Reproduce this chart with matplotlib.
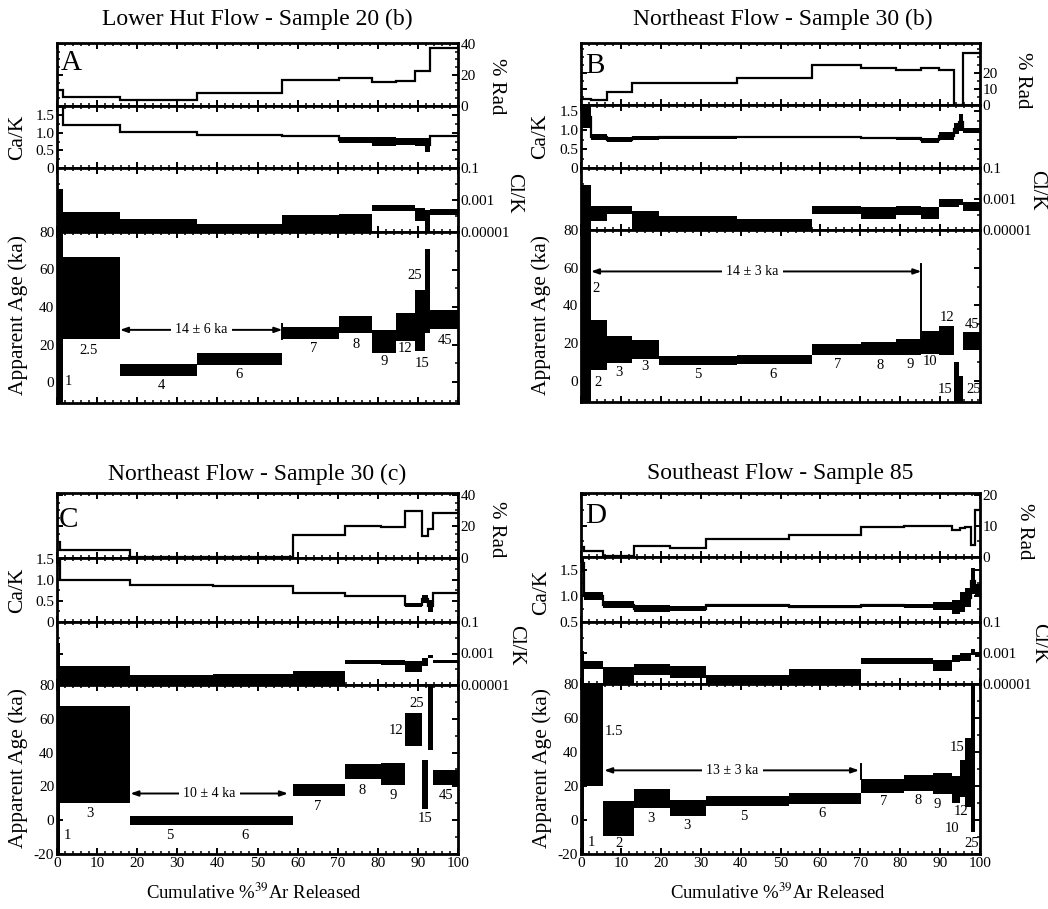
import numpy as np
import matplotlib
matplotlib.use('Agg')
import matplotlib.pyplot as plt
from matplotlib.ticker import MultipleLocator, FixedLocator, NullFormatter

plt.rcParams['font.family'] = ['Liberation Serif', 'DejaVu Serif']
plt.rcParams['mathtext.fontset'] = 'stix'
plt.rcParams['axes.unicode_minus'] = False

nan = np.nan

# ---------------- Panel A : Lower Hut Flow - Sample 20 (b) ----------------
A_edges = [0, 1.5, 15.7, 35.0, 56.2, 70.3, 78.6, 84.5, 89.2, 91.7, 92.9, 100]
A_steps = ["1", "2.5", "4", "6", "7", "8", "9", "12", "15", "25", "45"]
A_rad = [10.0, 6.0, 3.8, 8.1, 16.6, 18.3, 15.5, 16.2, 22.6, 22.6, 37.4]
A_cak_lo = [1.70, 1.20, 0.99, 0.93, 0.88, 0.72, 0.62, 0.64, 0.62, 0.45, 0.87]
A_cak_hi = [2.00, 1.26, 1.04, 0.97, 0.92, 0.87, 0.87, 0.86, 0.86, 0.86, 0.92]
A_clk_lo = [-6, -6, -6, -6, -6, -6, -3.69, -3.69, -4.30, -6, -3.96]
A_clk_hi = [-2.29, -3.75, -4.20, -4.52, -3.96, -3.85, -3.33, -3.33, -3.48, -3.60, -3.54]
A_age_lo = [-30, 22.8, 3.0, 9.2, 22.8, 26.0, 15.4, 22.0, 16.3, 26.0, 28.1]
A_age_hi = [90, 66.7, 9.7, 15.4, 29.2, 35.2, 27.8, 37.0, 49.0, 71.0, 38.4]
A_lab_x = [2.8, 7.8, 26.0, 45.4, 63.9, 74.5, 81.7, 86.7, 91.1, 89.2, 96.7]
A_lab_y = [0.4, 17.0, -2.0, 4.0, 18.0, 20.0, 11.0, 18.0, 9.7, 57.0, 22.0]
A_plateau = [15.7, 56.2, 27.8, 36.0]
A_plateau_text = "14 ± 6 ka"
A_plateau_tick = [56.2, 22.8, 31.0]

# ---------------- Panel B : Northeast Flow - Sample 30 (b) ----------------
B_edges = [0, 2.5, 6.5, 12.7, 19.6, 39.2, 58.0, 70.3, 78.9, 85.3, 89.7, 93.5, 94.7, 95.8, 100]
B_steps = ["2", "2", "3", "3", "5", "6", "7", "8", "9", "10", "12", "15", "25", "45"]
B_rad = [4.0, 3.0, 7.9, 13.6, 13.6, 16.8, 24.7, 23.2, 21.5, 23.2, 21.5, 0.0, 0.0, 32.0]
B_cak_lo = [1.07, 0.75, 0.68, 0.75, 0.77, 0.81, 0.79, 0.77, 0.75, 0.66, 0.75, 0.89, 0.98, 0.94]
B_cak_hi = [1.66, 0.89, 0.83, 0.85, 0.85, 0.86, 0.85, 0.83, 0.83, 0.80, 0.95, 1.20, 1.44, 1.07]
B_clk_lo = [-6, -4.39, -3.96, -6, -6, -6, -3.96, -4.29, -4.03, -4.29, -3.53, -3.53, -3.38, -3.75]
B_clk_hi = [-2.10, -3.46, -3.46, -3.75, -4.11, -4.29, -3.42, -3.53, -3.42, -3.53, -3.03, -3.03, -2.99, -3.20]
B_age_lo = [-30, 5.6, 9.5, 11.3, 8.3, 8.8, 13.6, 13.5, 13.5, 14.0, 13.5, -30, -30, 16.2]
B_age_hi = [90, 32.4, 23.6, 21.8, 13.0, 13.6, 19.7, 20.6, 21.9, 26.6, 28.9, 10.0, 2.5, 25.9]
B_lab_x = [3.8, 4.3, 9.4, 16.1, 29.2, 48.2, 64.3, 75.0, 82.4, 87.6, 91.8, 91.2, 98.3, 98.1]
B_lab_y = [48.8, -0.9, 4.2, 7.4, 3.5, 3.5, 8.8, 8.3, 8.8, 10.0, 33.5, -4.9, -4.9, 30.0]
B_plateau = [2.5, 85.3, 58.0, 43.0]
B_plateau_text = "14 ± 3 ka"
B_plateau_tick = [85.3, 21.9, 62.0]

# ---------------- Panel C : Northeast Flow - Sample 30 (c) ----------------
C_edges = [0, 0.8, 18.3, 39.0, 58.8, 71.8, 80.7, 86.7, 91.1, 92.5, 93.8, 100]
C_steps = ["1", "3", "5", "6", "7", "8", "9", "12", "15", "25", "45"]
C_rad = [10.0, 5.0, 0.8, 0.8, 14.4, 20.1, 19.7, 29.7, 13.8, 18.0, 28.2]
C_cak_lo = [1.30, 0.98, 0.85, 0.83, 0.68, 0.60, 0.60, 0.36, 0.45, 0.24, 0.67]
C_cak_hi = [1.80, 1.03, 0.89, 0.87, 0.72, 0.64, 0.64, 0.46, 0.65, 0.53, 0.71]
C_clk_lo = [-6, -6, -6, -6, -6, -3.65, -3.70, -4.20, -3.82, -3.29, -3.60]
C_clk_hi = [-2.32, -3.78, -4.35, -4.29, -4.14, -3.39, -3.39, -3.45, -3.29, -3.08, -3.39]
C_age_lo = [-30, 9.9, -3.0, -3.0, 14.2, 24.1, 20.8, 43.9, 6.9, 41.5, 20.8]
C_age_hi = [90, 67.6, 2.4, 2.4, 21.7, 33.2, 33.6, 63.2, 35.6, 90, 29.6]
C_lab_x = [2.5, 8.1, 28.0, 46.9, 64.9, 76.2, 83.8, 84.5, 91.7, 89.6, 97.1]
C_lab_y = [-9.0, 4.0, -9.0, -9.0, 8.3, 17.8, 14.8, 52.8, 1.0, 69.0, 14.8]
C_plateau = [18.3, 57.6, 15.8, 38.0]
C_plateau_text = "10 ± 4 ka"
C_plateau_tick = None

# ---------------- Panel D : Southeast Flow - Sample 85 ----------------
D_edges = [0, 0.8, 5.4, 13.4, 22.3, 31.3, 52.2, 70.1, 81.0, 88.1, 92.9, 95.0, 96.2, 97.7, 98.7, 100]
D_steps = ["1", "1.5", "2", "3", "3", "5", "6", "7", "8", "9", "10", "12", "15", "25", ""]
D_rad = [3.2, 1.8, 0.2, 3.6, 2.9, 5.8, 7.0, 9.6, 9.9, 10.0, 8.8, 9.2, 9.5, 4.0, 14.9]
D_cak_lo = [1.47, 0.93, 0.76, 0.69, 0.71, 0.79, 0.76, 0.79, 0.76, 0.73, 0.66, 0.69, 0.79, 1.03, 1.00]
D_cak_hi = [1.80, 1.08, 0.90, 0.82, 0.80, 0.85, 0.82, 0.85, 0.84, 0.89, 0.92, 1.08, 1.15, 1.53, 1.24]
D_clk_lo = [-6, -4.03, -6, -4.42, -4.63, -6, -6, -3.70, -3.70, -4.14, -3.59, -3.49, -3.49, -3.16, -3.27]
D_clk_hi = [-2.90, -3.49, -3.92, -3.70, -3.81, -4.42, -4.03, -3.34, -3.34, -3.44, -3.16, -3.00, -3.00, -2.73, -3.00]
D_age_lo = [-30, 19.8, -9.3, 6.9, 2.4, 8.3, 9.5, 15.8, 16.8, 15.4, 9.9, 13.8, 7.9, -6.9, nan]
D_age_hi = [90, 90, 10.9, 18.2, 11.9, 14.2, 15.8, 24.1, 26.7, 27.7, 26.1, 35.2, 48.4, 90, nan]
D_lab_x = [2.5, 8.3, 9.4, 17.5, 26.5, 40.9, 60.5, 75.8, 84.5, 89.3, 93.1, 95.2, 94.3, 98.0, nan]
D_lab_y = [-13.0, 52.0, -13.8, 1.0, -3.0, 2.0, 4.0, 10.9, 11.5, 8.9, -4.9, 4.9, 42.5, -13.8, nan]
D_plateau = [5.8, 69.7, 29.2, 38.0]
D_plateau_text = "13 ± 3 ka"
D_plateau_tick = [70.1, 24.0, 33.2]

titles = ["Lower Hut Flow - Sample 20 (b)", "Northeast Flow - Sample 30 (b)",
          "Northeast Flow - Sample 30 (c)", "Southeast Flow - Sample 85"]
letters = ["A", "B", "C", "D"]

rad_ticks = [[0, 20, 40], [0, 10, 20], [0, 20, 40], [0, 10, 20]]
cak_ticks = [[0, 0.5, 1.0, 1.5], [0, 0.5, 1.0, 1.5], [0, 0.5, 1.0, 1.5], [0.5, 1.0, 1.5]]
cak_ticklabels = [["0", "0.5", "1.0", "1.5"], ["0", "0.5", "1.0", "1.5"],
                  ["0", "0.5", "1.0", "1.5"], ["0.5", "1.0", "1.5"]]
clk_ticks = [1e-1, 1e-3, 1e-5]
clk_ticklabels = ["0.1", "0.001", "0.00001"]
age_ticks = [[0, 20, 40, 60, 80], [0, 20, 40, 60, 80],
             [-20, 0, 20, 40, 60, 80], [-20, 0, 20, 40, 60, 80]]

# ---------------- layout (pixels) ----------------
W, H = 1048, 909
panel_x = [(57, 458), (581, 980), (57, 458), (581, 980)]
panel_y = [[43, 106, 168, 232, 403], [43, 105, 168, 230, 402],
           [493, 558, 622, 685, 854], [493, 557, 622, 684, 854]]
rad_lim = [(0, 40.5), (0, 38.5), (0, 41), (0, 20.5)]
cak_lim = [(0, 1.76), (0, 1.67), (0, 1.52), (0.5, 1.75)]
age_lim = [(-11.2, 80), (-11.3, 80), (-20, 80), (-20, 80)]
title_pos = [(257, 19), (783, 19), (257, 474), (780, 474)]
letter_pos = [(61, 63), (585, 66), (59, 520), (585, 516)]
rad_label_pos = [(497, 86), (1022, 80), (497, 529), (1024, 531)]
clk_label_pos = [(514, 193), (1037, 190), (516, 645), (1039, 643)]
cak_label_pos = [(18, 137), (541, 136), (18, 590), (542, 592)]
age_label_pos = [(18, 315), (541, 315), (18, 768), (542, 768)]
xlabel_pos = [(254, 893), (778, 893)]

fig = plt.figure(figsize=(W / 100, H / 100), dpi=100)


def rect(x0, x1, y0, y1):
    return [x0 / W, 1 - y1 / H, (x1 - x0) / W, (y1 - y0) / H]


def style(ax, xlabels=False):
    ax.set_xlim(0, 100)
    ax.xaxis.set_major_locator(MultipleLocator(10))
    ax.xaxis.set_minor_locator(MultipleLocator(2))
    ax.tick_params(which='both', direction='in', top=True, bottom=True, left=True, right=True,
                   labelbottom=xlabels, labelleft=False, labelright=False, labelsize=11, pad=2)
    ax.tick_params(which='major', length=4.5, width=1.4)
    ax.tick_params(which='minor', length=2.5, width=1.1)
    for s in ax.spines.values():
        s.set_linewidth(2.0)


def fpx(x, y):
    return x / W, 1 - y / H


panels = [
    (A_edges, A_steps, A_rad, A_cak_lo, A_cak_hi, A_clk_lo, A_clk_hi, A_age_lo, A_age_hi,
     A_lab_x, A_lab_y, A_plateau, A_plateau_text, A_plateau_tick),
    (B_edges, B_steps, B_rad, B_cak_lo, B_cak_hi, B_clk_lo, B_clk_hi, B_age_lo, B_age_hi,
     B_lab_x, B_lab_y, B_plateau, B_plateau_text, B_plateau_tick),
    (C_edges, C_steps, C_rad, C_cak_lo, C_cak_hi, C_clk_lo, C_clk_hi, C_age_lo, C_age_hi,
     C_lab_x, C_lab_y, C_plateau, C_plateau_text, C_plateau_tick),
    (D_edges, D_steps, D_rad, D_cak_lo, D_cak_hi, D_clk_lo, D_clk_hi, D_age_lo, D_age_hi,
     D_lab_x, D_lab_y, D_plateau, D_plateau_text, D_plateau_tick),
]

for i, p in enumerate(panels):
    (edges, steps, rad, cak_lo, cak_hi, clk_lo, clk_hi, age_lo, age_hi,
     lab_x, lab_y, plateau, ptext, ptick) = p
    edges = np.array(edges, float)
    widths = np.diff(edges)
    left = edges[:-1]
    x0, x1 = panel_x[i]
    ys = panel_y[i]

    ax_r = fig.add_axes(rect(x0, x1, ys[0], ys[1]))
    ax_c = fig.add_axes(rect(x0, x1, ys[1], ys[2]))
    ax_l = fig.add_axes(rect(x0, x1, ys[2], ys[3]))
    ax_a = fig.add_axes(rect(x0, x1, ys[3], ys[4]))
    for ax in (ax_r, ax_c, ax_l):
        style(ax)
    style(ax_a, xlabels=(i >= 2))

    # % Rad
    ax_r.stairs(np.array(rad), edges, baseline=None, color='black', lw=1.6)
    ax_r.set_ylim(*rad_lim[i])
    ax_r.yaxis.set_major_locator(FixedLocator(rad_ticks[i]))
    ax_r.yaxis.set_minor_locator(MultipleLocator(5))
    ax_r.tick_params(labelright=True, labelsize=11)

    # Ca/K
    lo = np.array(cak_lo); hi = np.array(cak_hi)
    ax_c.bar(left, hi - lo, width=widths, bottom=lo, align='edge', color='black', linewidth=0)
    ax_c.stairs((lo + hi) / 2, edges, baseline=None, color='black', lw=1.6)
    ax_c.set_ylim(*cak_lim[i])
    ax_c.set_yticks(cak_ticks[i], cak_ticklabels[i])
    ax_c.yaxis.set_minor_locator(MultipleLocator(0.25))
    ax_c.tick_params(labelleft=True, labelsize=11)

    # Cl/K (log)
    ax_l.set_yscale('log')
    lo = 10.0 ** np.array(clk_lo); hi = 10.0 ** np.array(clk_hi)
    ax_l.bar(left, hi - lo, width=widths, bottom=lo, align='edge', color='black', linewidth=0)
    ax_l.set_ylim(1e-5, 1e-1)
    ax_l.yaxis.set_minor_locator(FixedLocator([1e-2, 1e-4]))
    ax_l.yaxis.set_minor_formatter(NullFormatter())
    ax_l.set_yticks(clk_ticks, clk_ticklabels)
    ax_l.tick_params(labelright=True, labelsize=11)

    # Apparent age
    lo = np.array(age_lo, float); hi = np.array(age_hi, float)
    m = ~np.isnan(lo)
    ax_a.bar(left[m], (hi - lo)[m], width=widths[m], bottom=lo[m], align='edge',
             color='black', linewidth=0)
    ax_a.set_ylim(*age_lim[i])
    ax_a.yaxis.set_major_locator(FixedLocator(age_ticks[i]))
    ax_a.yaxis.set_minor_locator(MultipleLocator(10))
    ax_a.tick_params(labelleft=True, labelsize=11)
    for s, lx, ly in zip(steps, lab_x, lab_y):
        if s and not np.isnan(lx):
            ax_a.text(lx, ly, s, ha='center', va='center', fontsize=10.5)
    px0, px1, py, ptx = plateau
    ax_a.annotate('', xy=(px1, py), xytext=(px0, py),
                  arrowprops=dict(arrowstyle='<|-|>,head_length=0.45,head_width=0.16',
                                  color='black', lw=1.4, shrinkA=0, shrinkB=0))
    ax_a.text(ptx, py, ptext, ha='center', va='center', fontsize=10, zorder=5,
              bbox=dict(facecolor='white', edgecolor='none', pad=3))
    if ptick is not None:
        ax_a.plot([ptick[0], ptick[0]], [ptick[1], ptick[2]], color='black', lw=1.4)
    if i >= 2:
        ax_a.set_xticks(np.arange(0, 101, 10))

    # texts
    fig.text(*fpx(*title_pos[i]), titles[i], ha='center', va='center', fontsize=17)
    fig.text(*fpx(*letter_pos[i]), letters[i], ha='left', va='center', fontsize=21)
    fig.text(*fpx(*rad_label_pos[i]), "% Rad", ha='center', va='center', rotation=-90, fontsize=15)
    fig.text(*fpx(*clk_label_pos[i]), "Cl/K", ha='center', va='center', rotation=-90, fontsize=15)
    fig.text(*fpx(*cak_label_pos[i]), "Ca/K", ha='center', va='center', rotation=90, fontsize=15.5)
    fig.text(*fpx(*age_label_pos[i]), "Apparent Age (ka)", ha='center', va='center',
             rotation=90, fontsize=15.5)

for (xx, yy) in xlabel_pos:
    fig.text(*fpx(xx, yy), "Cumulative %$^{39}$Ar Released", ha='center', va='center', fontsize=13.5)

fig.savefig('out.png', dpi=100)
